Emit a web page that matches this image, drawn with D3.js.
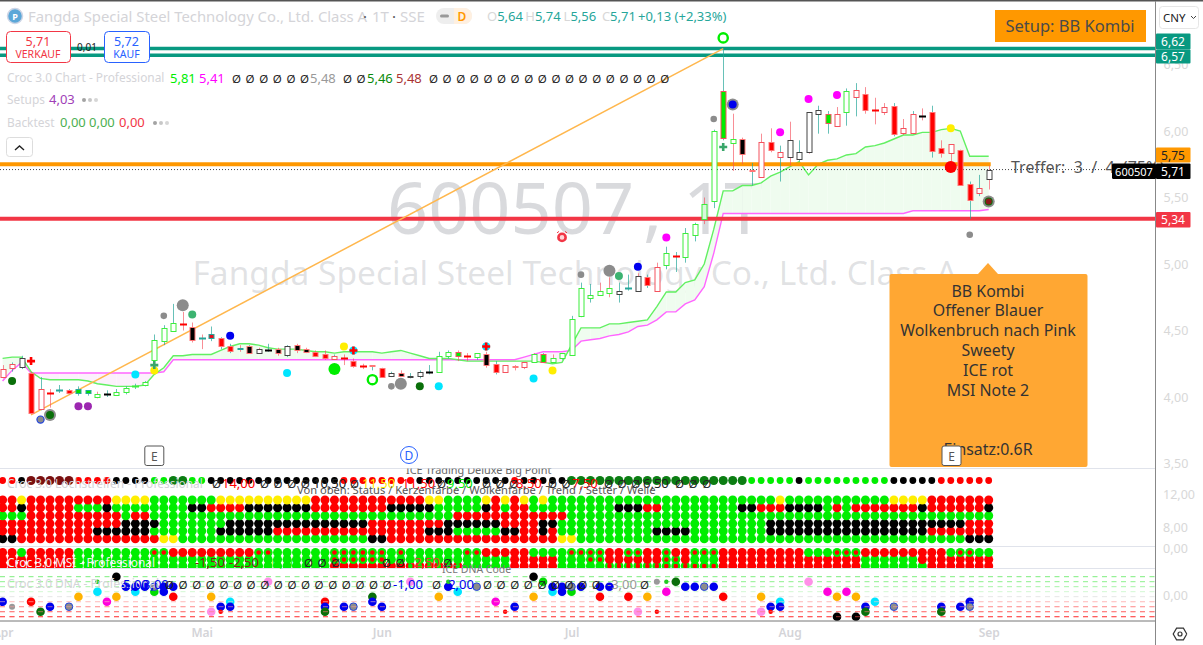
<!DOCTYPE html>
<html><head><meta charset="utf-8">
<style>html,body{margin:0;padding:0;background:#fff;overflow:hidden}svg{display:block}text{font-family:"Noto Sans",sans-serif;white-space:pre}</style>
<script src="https://cdnjs.cloudflare.com/ajax/libs/d3/7.8.5/d3.min.js"></script>
</head><body><svg id="c" width="1203" height="645"></svg>
<script>
const bodyTops=[4.21,4.25,4.29,4.18,4.06,4.03,4.05,4.05,4.06,4.05,
4.02,4.02,4.04,4.07,4.08,4.11,4.43,4.52,4.56,4.55,
4.53,4.44,4.47,4.44,4.38,4.37,4.38,4.36,4.35,4.36,
4.38,4.39,4.36,4.34,4.32,4.31,4.29,4.27,4.23,4.24,
4.22,4.18,4.18,4.16,4.19,4.19,4.31,4.34,4.34,4.31,
4.33,4.32,4.25,4.24,4.23,4.26,4.32,4.32,4.29,4.33,
4.59,4.82,4.77,4.80,4.82,4.80,4.82,4.91,4.90,4.98,
5.08,5.06,5.23,5.30,5.45,6.00,6.30,5.94,5.94,5.71,
5.92,5.92,5.84,5.93,5.84,6.14,6.16,6.13,6.13,6.30,
6.31,6.28,6.16,6.18,6.19,6.02,6.13,6.11,6.14,5.87,
5.90,5.86,5.60,5.57,5.71];
const bodyBottoms=[4.15,4.22,4.22,3.88,3.91,4.03,4.05,4.03,4.03,4.03,
4.00,4.02,4.02,4.04,4.08,4.09,4.28,4.42,4.50,4.55,
4.43,4.44,4.44,4.38,4.34,4.36,4.33,4.33,4.35,4.33,
4.31,4.35,4.34,4.31,4.29,4.29,4.29,4.23,4.23,4.23,
4.15,4.16,4.16,4.15,4.16,4.19,4.19,4.31,4.31,4.31,
4.30,4.24,4.19,4.19,4.22,4.22,4.26,4.26,4.26,4.29,
4.32,4.61,4.75,4.77,4.78,4.78,4.82,4.80,4.84,4.80,
4.99,5.06,5.05,5.22,5.34,5.47,5.95,5.91,5.83,5.70,
5.66,5.86,5.80,5.80,5.79,5.84,6.13,6.06,6.04,6.14,
6.26,6.16,6.16,6.14,5.98,5.98,5.99,6.11,5.85,5.83,
5.83,5.60,5.48,5.53,5.64];
const highs=[4.24,4.26,4.31,4.19,4.15,4.06,4.09,4.06,4.08,4.05,
4.04,4.05,4.06,4.08,4.10,4.12,4.47,4.54,4.70,4.64,
4.56,4.47,4.53,4.45,4.40,4.39,4.39,4.37,4.40,4.37,
4.39,4.40,4.37,4.35,4.35,4.32,4.32,4.29,4.25,4.24,
4.22,4.19,4.20,4.18,4.20,4.24,4.34,4.35,4.35,4.33,
4.33,4.34,4.27,4.24,4.24,4.26,4.33,4.33,4.32,4.33,
4.61,4.86,4.85,4.86,4.90,4.86,4.92,4.93,4.92,5.01,
5.13,5.09,5.27,5.31,5.50,6.01,6.62,6.13,5.95,5.76,
5.98,6.02,5.89,6.07,5.93,6.14,6.19,6.15,6.18,6.32,
6.36,6.33,6.25,6.21,6.21,6.09,6.15,6.17,6.19,5.93,
5.90,5.86,5.62,5.67,5.74];
const lows=[4.14,4.19,4.21,3.87,3.90,3.92,4.03,4.02,4.01,4.01,
3.99,4.00,4.01,4.02,4.06,4.08,4.24,4.39,4.50,4.50,
4.41,4.36,4.42,4.36,4.33,4.34,4.33,4.33,4.34,4.31,
4.30,4.33,4.33,4.30,4.28,4.28,4.24,4.22,4.21,4.20,
4.15,4.15,4.15,4.14,4.14,4.17,4.19,4.29,4.27,4.27,
4.28,4.22,4.17,4.19,4.20,4.21,4.26,4.26,4.26,4.28,
4.32,4.60,4.71,4.77,4.75,4.71,4.80,4.79,4.82,4.80,
4.96,4.94,5.01,5.17,5.30,5.42,5.93,5.70,5.75,5.59,
5.66,5.84,5.62,5.74,5.77,5.83,5.98,5.98,6.03,6.04,
6.11,6.13,6.05,6.12,5.96,5.97,5.98,6.08,5.80,5.80,
5.77,5.60,5.34,5.51,5.56];
const candleStyles=("a a k R a R T R L L h K h h h h h h h R K T U R R U K k K K k K K R R a R R R R R k K k k K h h G R h K R a R a h G h h h h h h h k T k R a h R h h l h G h K K a R a k k k k G a h a R R a R a a K R R a R R a k").split(" ");
const wickDirs="duududuuuuduuuuuuuuddduuududududdddudddududuuuuuddududddduduuuudduududuuuuduudduddududuuduudddudududdduu";
const cloudUpper=[4.29,4.30,4.30,4.19,4.14,4.13,4.13,4.13,4.13,4.12,
4.10,4.09,4.08,4.08,4.08,4.09,4.17,4.22,4.31,4.31,
4.32,4.32,4.32,4.35,4.38,4.40,4.40,4.39,4.37,4.36,
4.36,4.36,4.35,4.34,4.34,4.33,4.34,4.34,4.34,4.34,
4.33,4.34,4.35,4.33,4.31,4.29,4.29,4.29,4.28,4.27,
4.27,4.27,4.27,4.27,4.27,4.27,4.27,4.26,4.25,4.26,
4.39,4.52,4.52,4.52,4.55,4.55,4.56,4.57,4.58,4.68,
4.79,4.79,4.86,4.88,5.00,5.26,5.55,5.55,5.59,5.59,
5.61,5.66,5.69,5.73,5.77,5.67,5.75,5.78,5.79,5.82,
5.83,5.88,5.89,5.91,5.94,5.97,5.97,5.99,5.99,6.01,
6.02,6.00,5.81,5.81,5.81];
const cloudLower=[4.12,4.20,4.26,4.18,4.18,4.18,4.18,4.18,4.18,4.18,
4.18,4.18,4.18,4.18,4.18,4.18,4.18,4.19,4.28,4.28,
4.28,4.28,4.28,4.28,4.28,4.28,4.28,4.28,4.28,4.28,
4.28,4.28,4.28,4.28,4.28,4.28,4.28,4.28,4.28,4.28,
4.28,4.28,4.28,4.28,4.28,4.28,4.28,4.28,4.28,4.28,
4.28,4.28,4.28,4.28,4.28,4.30,4.32,4.34,4.34,4.34,
4.35,4.42,4.43,4.44,4.46,4.47,4.49,4.53,4.54,4.58,
4.64,4.64,4.70,4.73,4.83,5.08,5.38,5.38,5.38,5.38,
5.38,5.38,5.38,5.38,5.38,5.38,5.38,5.38,5.38,5.38,
5.38,5.38,5.38,5.38,5.38,5.38,5.40,5.40,5.40,5.40,
5.40,5.40,5.40,5.40,5.41];
const levelPrices=[6.62,6.57,5.75,5.34,5.71];
const trendStart=[3,3.865], trendEnd=[76,6.62];
const priceTicks=[6.5,6,5.5,5,4.5,4,3.5];
const monthIdx=[0,21,40,60,83,104], monthNames=["Apr","Mai","Jun","Jul","Aug","Sep"];
const markers=[[1,4.12,"dg"],[3,4.27,"rp"],[4,3.83,"ring"],[5,3.865,"gb"],[5,3.865,"dg"],[8,3.93,"pu"],[9,3.93,"pu"],[14,4.17,"cy"],[16,4.20,"ye"],[16,4.24,"gp"],[17,4.61,"gs"],[19,4.69,"gb"],[20,4.62,"se"],[24,4.46,"bl"],[30,4.18,"cy"],[36,4.38,"ye"],[37,4.35,"cy"],[37,4.35,"rp"],[35,4.21,"lb"],[39,4.13,"lr"],[41,4.08,"gs"],[42,4.10,"gb"],[44,4.08,"dg"],[46,4.08,"cy"],[51,4.38,"cy"],[51,4.38,"rp"],[56,4.14,"cy"],[58,4.20,"ye"],[61,4.92,"gs"],[64,4.95,"gb"],[65,4.91,"se"],[67,4.98,"bl"],[70,5.20,"ma"],[75,6.09,"gs"],[76,5.88,"gp"],[77,6.20,"gb"],[77,6.20,"bl"],[76,6.70,"lr"],[82,5.99,"ma"],[85,6.24,"ma"],[88,6.27,"ma"],[100,6.02,"ye"],[100,5.73,"rb"],[102,5.22,"gs"],[104,5.47,"gb"],[104,5.47,"dg"],[104,5.47,"ds"]];
const statusRow="r2 k1 d5 r4 k4 g2 G2 g2 k14 r8 k10 r1 k5 G19 g5 k1 g9 k5 r6";
const gridRows=["r2 y1 r9 y4 g7 y10 r12 y2 g4 y1 r1 y1 r1 y1 g1 y1 g24 y1 g11 y4 r7",
"r2 k1 r5 g3 k1 g8 k2 r4 k7 r8 k5 g5 k1 r1 g1 r2 g9 k3 r2 g8 k2 r3 k4 g1 r1 g1 r7 k1 r6 k1",
"g3 r10 g1 r2 g32 r12 g45",
"r13 k4 g7 k15 r8 k6 r4 k2 g22 k21 r3",
"r10 k6 g7 k6 r16 k3 g5 k2 r2 k1 r1 g10 k4 g8 k17 r7",
"k2 r15 y2 g20 k2 r18 y2 g41 k3"];
const msiRows=["r2 g1 r5 g8 a2 r9 a2 g6 a6 g1 a1 g6 a2 r5 g4 a4 r2 a2 r2 a1 r2 a3 r9 g3 a3 r9 g1 a2 g2",
"r8 g8 g11 g8 a6 g1 g12 r5 g3 a2 r2 r4 a2 r1 g3 r9 r3 r3 g6 r8",
"r8 g19 g8 r8 b6 g5 r5 g5 a12 r15 g6 g1 r7"];
const dnaLevels=[4,3,2,1,0,-1,-2,-3,-4];
const dnaLevelColors=["#7dee7d","#8df08d","#a8f4a8","#d2f8d2","#e6e6e6","#ffc4c4","#ff9a9a","#ff7878","#ff4d4d"];
const dnaDots=[[0,-1,"b"],[1,-2,"s"],[3,-1,"r"],[4,-3,"d"],[5,-2,"b"],[7,-2,"x"],[8,0,"o"],[10,1,"c"],[10,3,"q"],[11,-1,"m"],[12,0,"o"],[12,4,"k"],[13,2,"b"],[14,1,"c"],[14,2,"b"],[15,2,"b"],[16,1,"g"],[16,2,"x"],[17,1,"b"],[17,2,"b"],[18,2,"b"],[18,0,"r"],[22,0,"o"],[22,-3,"p"],[23,-2,"b"],[23,-3,"t"],[24,-1,"c"],[24,-2,"b"],[28,3,"p"],[34,-1,"r"],[34,-2,"b"],[34,-3,"d"],[36,-2,"b"],[37,-2,"x"],[39,0,"d"],[39,-1,"b"],[40,-2,"b"],
[43,3,"p"],[46,0,"o"],[47,2,"b"],[47,3,"q"],[48,1,"c"],[50,2,"x"],[52,-1,"m"],[53,-3,"t"],[54,-2,"b"],[56,0,"o"],[56,4,"k"],[57,3,"g"],[58,1,"c"],[58,2,"b"],[59,1,"b"],[59,2,"b"],[60,1,"g"],[60,2,"x"],[61,2,"b"],[63,0,"r"],[63,2,"b"],[64,2,"b"],[66,0,"r"],[67,-3,"p"],[68,0,"o"],[69,-3,"t"],[69,3,"s"],[70,1,"m"],[70,3,"q"],[71,3,"d"],[72,2,"b"],[73,2,"b"],[74,2,"x"],[75,2,"b"],[76,0,"r"],[80,0,"o"],[80,-3,"p"],[81,-2,"b"],[81,-3,"t"],[82,-1,"c"],[82,-2,"b"],
[85,3,"p"],[87,1,"m"],[88,0,"o"],[88,-4,"k"],[89,1,"m"],[90,0,"o"],[90,-4,"k"],[91,-2,"b"],[91,-3,"d"],[92,-1,"c"],[94,-2,"x"],[99,-2,"b"],[99,-3,"d"],[101,-2,"b"],[102,-1,"b"],[102,-2,"x"]];
const headerOhlc=[["O","5,64"],["H","5,74"],["L","5,56"],["C","5,71"]];
const noteLines=["BB Kombi","Offener Blauer","Wolkenbruch nach Pink","Sweety","ICE rot","MSI Note 2","","","Einsatz:0.6R"];

const svg=d3.select("#c");
const N=bodyTops.length;
const x=d3.scalePoint(d3.range(N),[2.6,988.7]);
const y=d3.scaleLinear([6,3.5],[131,463.5]);
const dnaY=d3.scaleLinear([0,-4],[596.7,616.7]);
const FONT='"Noto Sans",sans-serif';
const defs=svg.append("defs");
defs.append("clipPath").attr("id","main").append("rect").attr("width",1155).attr("height",468);
defs.append("clipPath").attr("id","msi").append("rect").attr("y",547).attr("width",1155).attr("height",21);
defs.append("clipPath").attr("id","ice").append("rect").attr("y",468.5).attr("width",1155).attr("height",30);
function txt(g,s,px,py,size,fill,anchor,weight){return g.append("text").attr("x",px).attr("y",py).attr("font-size",size).attr("fill",fill).attr("text-anchor",anchor||"start").attr("font-weight",weight||null).text(s);}
function expand(s){const o=[];s.split(" ").forEach(t=>{for(let k=0;k<+t.slice(1);k++)o.push(t[0]);});return o;}

/* frame */
svg.append("rect").attr("width",1203).attr("height",1.5).attr("fill","#555");
const main=svg.append("g").attr("clip-path","url(#main)");
/* watermark */
const wm="rgba(120,123,134,.28)";
const wmt=main.append("text").attr("y",234).attr("font-size",72).attr("fill",wm);
[["600507",387],[",",643],["1T",683]].forEach(d=>wmt.append("tspan").attr("x",d[1]).text(d[0]));
txt(main,"Fangda Special Steel Technology Co., Ltd. Class A",575,285,33.5,"rgba(120,123,134,.22)","middle");
/* cloud */
const area=d3.area().x(d=>x(d)).y0(d=>y(cloudLower[d])).y1(d=>y(cloudUpper[d]));
main.append("g").selectAll("path").data(d3.range(N-1)).join("path")
 .attr("d",i=>area([i,i+1]))
 .attr("fill",i=>cloudUpper[i]+cloudUpper[i+1]>=cloudLower[i]+cloudLower[i+1]?"#effcef":"#fcf0fc");
main.append("path").attr("d",d3.line().x(d=>x(d)).y(d=>y(cloudLower[d]))(d3.range(N))).attr("fill","none").attr("stroke","#ff66ff").attr("stroke-width",1.4);
main.append("path").attr("d",d3.line().x(d=>x(d)).y(d=>y(cloudUpper[d]))(d3.range(N))).attr("fill","none").attr("stroke","#62f062").attr("stroke-width",1.4);
/* levels */
const lvl=(p,c,w,x2)=>main.append("line").attr("x1",0).attr("x2",x2).attr("y1",y(p)).attr("y2",y(p)).attr("stroke",c).attr("stroke-width",w);
lvl(levelPrices[0],"#089981",3.4,1155);lvl(levelPrices[1],"#089981",3.4,1155);
lvl(levelPrices[2],"#ff9800",4,x(N-1)+2);lvl(levelPrices[3],"#f23645",4,1155);
lvl(levelPrices[4],"#444",1,1155).attr("stroke-dasharray","1,2");
/* trend line */
main.append("line").attr("x1",x(trendStart[0])).attr("y1",y(trendStart[1])).attr("x2",x(trendEnd[0])).attr("y2",y(trendEnd[1])).attr("stroke","#ffb74d").attr("stroke-width",1.5);
/* candles */
const cs={a:["#fff","#f4525e"],R:["#ff0000","#f77"],h:["#fff","#3dee3d"],l:["#d8f8dc","#3dee3d"],G:["#00ee00","#f4525e"],L:["#00e000","#26a69a"],k:["#fff","#444"],K:["#000","#f77"],T:["#26a69a","#26a69a"],U:["#e01020","#26a69a"]};
const cg=main.append("g");
d3.range(N).forEach(i=>{
 const px=Math.round(x(i));
 cg.append("line").attr("x1",px+.5).attr("x2",px+.5).attr("y1",y(highs[i])).attr("y2",y(lows[i]))
  .attr("stroke",wickDirs[i]==="u"?"#26a69a":"#f4525e").attr("stroke-opacity",wickDirs[i]==="u"?.7:.65);
 const t=y(bodyTops[i]),b=y(bodyBottoms[i]),s=cs[candleStyles[i]];
 if(b-t<1.2){cg.append("rect").attr("x",px-3).attr("y",Math.round(t)-.5).attr("width",7).attr("height",2).attr("fill",s[0]==="#fff"?s[1]:s[0]);}
 else cg.append("rect").attr("x",px-2).attr("y",Math.round(t)+.5).attr("width",5).attr("height",Math.max(1,Math.round(b-t))).attr("fill",s[0]).attr("stroke",s[1]);
});
/* markers */
const mg=main.append("g");
const mk={dg:["#0a6f0a",4],gb:["#8c8c8c",6],gs:["#8c8c8c",3.3],pu:["#9c27b0",4],cy:["#00e5ff",4],ye:["#ffee00",4],se:["#3cb371",4],bl:["#0000ee",4],lb:["#00ee00",6],ma:["#ff00ff",4],rb:["#f00",6],ds:["#8b1a1a",3]};
markers.forEach(m=>{const mx=x(m[0]),my=y(m[1]);
 if(m[2]==="rp"||m[2]==="gp"){const c=m[2]==="rp"?"#f00":"#3aa66a";
  mg.append("path").attr("d",`M${mx-4},${my}H${mx+4}M${mx},${my-4}V${my+4}`).attr("stroke",c).attr("stroke-width",2.6);}
 else if(m[2]==="lr"){mg.append("circle").attr("cx",mx).attr("cy",my).attr("r",4.6).attr("fill","#fff").attr("stroke","#00ee00").attr("stroke-width",2.4);}
 else if(m[2]==="ring"){mg.append("circle").attr("cx",mx).attr("cy",my).attr("r",3.6).attr("fill","#8c8c8c").attr("stroke","#2244dd").attr("stroke-width",1.2);}
 else mg.append("circle").attr("cx",mx).attr("cy",my).attr("r",mk[m[2]][1]).attr("fill",mk[m[2]][0]);
});
/* alarm */
const al=main.append("g");
al.append("circle").attr("cx",x(59)).attr("cy",y(5.20)).attr("r",3.6).attr("fill","#ffd5d8").attr("stroke","#f23645").attr("stroke-width",2.6);
al.append("path").attr("d",`M${x(59)-5},${y(5.20)-4.5}l2,-1.5M${x(59)+5},${y(5.20)-4.5}l-2,-1.5`).attr("stroke","#f23645");
/* event marks */
const eBox=(g,cx)=>{g.append("rect").attr("x",cx-9.5).attr("y",446).attr("width",19).attr("height",19.5).attr("rx",2).attr("fill","#fff").attr("stroke","#555");
 txt(g,"E",cx,460.5,12,"#555","middle");};
eBox(main,x(16));
main.append("circle").attr("cx",409).attr("cy",455).attr("r",8.5).attr("fill","#fff").attr("stroke","#2962ff");
txt(main,"D",409,459.5,12,"#2962ff","middle");

/* note */
const note=svg.append("g");
note.append("path").attr("d","M978,274L988,263L998,274Z").attr("fill","#ffa733");
note.append("rect").attr("x",889.5).attr("y",274).attr("width",198).attr("height",193).attr("rx",2).attr("fill","#ffa733");
noteLines.forEach((s,i)=>{if(s)txt(note,s,988,296.5+i*19.8,15.9,"#333","middle");});
eBox(svg,951.5);
/* setup */
svg.append("rect").attr("x",995).attr("y",10).attr("width",151).attr("height",32).attr("fill","#ff9800");
txt(svg,"Setup: BB Kombi",1070,32,16.5,"#4a4a4a","middle");
txt(svg,"Treffer:  3  /  4  (75%)",1011,172.5,16,"#555");

/* header */
svg.append("circle").attr("cx",15).attr("cy",16).attr("r",7.5).attr("fill","#5ba7d8").attr("stroke","#cfd6e6").attr("stroke-width",1.5);
txt(svg,"P",15,20,9,"#fff","middle","700");
txt(svg,"Fangda Special Steel Technology Co., Ltd. Class A",28,22,14.85,"#d4d4d8");
txt(svg,"·",363,22,15,"#555");
txt(svg,"1T",372,22,15,"#d4d4d8");
txt(svg,"·",392,22,15,"#555");
txt(svg,"SSE",400,22,15,"#d4d4d8");
svg.append("rect").attr("x",436).attr("y",8).attr("width",36).attr("height",16).attr("rx",8).attr("fill","#eeeeee");
svg.append("path").attr("d","M454,8h10a8,8 0 0 1 0,16h-10Z").attr("fill","#fff0e0");
svg.append("rect").attr("x",440).attr("y",14.5).attr("width",9).attr("height",3).attr("rx",1.5).attr("fill","#999");
txt(svg,"D",462,21,12,"#ff9800","middle","600");
let ox=487;
headerOhlc.forEach(h=>{const t=svg.append("text").attr("x",ox).attr("y",21).attr("font-size",13);
 t.append("tspan").attr("fill","#d8d8d8").text(h[0]);t.append("tspan").attr("fill","#26a69a").text(h[1]);ox+=38.3;});
txt(svg,"+0,13 (+2,33%)",638,21,13,"#26a69a");

/* order buttons */
const btn=(bx,w,col,a,b)=>{svg.append("rect").attr("x",bx+.5).attr("y",31.5).attr("width",w).attr("height",31).attr("rx",4).attr("fill","#fff").attr("stroke",col);
 txt(svg,a,bx+w/2,46,12.5,col,"middle");txt(svg,b,bx+w/2,58,10.5,col,"middle");};
btn(6,64,"#f23645","5,71","VERKAUF");btn(104,45,"#2962ff","5,72","KAUF");
txt(svg,"0,01",87,51,10,"#222","middle");

/* legend rows: each token is [text,colour,optional start x]; the empty-value mark advances by one step */
function flow(px,py,items,size){let cx=px;items.forEach(it=>{if(it[2]!==undefined)cx=it[2];
 const isZ=it[0]==="Ø";const t=txt(svg,it[0],cx,py,isZ?11.5:size,it[1]);cx+=isZ?13.6:t.node().getComputedTextLength()+5;});}
const Z=["Ø","#222"];
const rep=(n,at)=>{const a=Array(n).fill(Z);if(at!==undefined)a[0]=["Ø","#222",at];return a;};
const LAB=11.9;
txt(svg,"Croc 3.0 Chart - Professional",7,82,LAB,"#d4d4d8");
flow(170,83,[["5,81","#00ee00"],["5,41","#ff00ff",199],...rep(6,232),["5,48","#999",310],...rep(2,343),["5,46","#0a8a0a",367],["5,48","#a33",396],...rep(18,429)],13);
txt(svg,"Setups",7,104,LAB,"#d4d4d8");txt(svg,"4,03",49,104,13,"#a040b8");
txt(svg,"Backtest",7,127,LAB,"#d4d4d8");
flow(60,127,[["0,00","#4caf50"],["0,00","#4caf50",89],["0,00","#f23645",119]],13);
[[84,.9],[90,.55],[96,.4],[155,.9],[161,.55],[167,.4]].forEach((d,i)=>svg.append("circle").attr("cx",d[0]).attr("cy",i<3?100:123).attr("r",2).attr("fill","#999").attr("opacity",d[1]));
svg.append("rect").attr("x",6.5).attr("y",137.5).attr("width",26).attr("height",19).attr("rx",3).attr("fill","#fff").attr("stroke","#ddd");
svg.append("path").attr("d","M15,150l4.5,-4l4.5,4").attr("fill","none").attr("stroke","#222").attr("stroke-width",1.4);

/* panes */
const seps=[468.5,546.5,568.5];
seps.forEach(s=>svg.append("line").attr("x1",0).attr("x2",1155).attr("y1",s).attr("y2",s).attr("stroke","#e0e3eb"));
const dotCol={r:"#ff0000",k:"#000",g:"#00ee00",y:"#ffee00",d:"#7a1010",G:"#0b7d12"};
const pane1=svg.append("g");
expand(statusRow).forEach((c,i)=>pane1.append("circle").attr("cx",x(i)).attr("cy",480.5).attr("r",(c==="d"||c==="G")?4.5:3.4).attr("fill",dotCol[c]));
const rowY=[500,507.8,515.7,523.6,531,538.7];
const rowOrder=[5,4,3,2,1,0];
rowOrder.forEach(r=>expand(gridRows[r]).forEach((c,i)=>pane1.append("circle").attr("cx",x(i)).attr("cy",rowY[r]).attr("r",4.5).attr("fill",dotCol[c])));
const pane2=svg.append("g").attr("clip-path","url(#msi)");
const msiY=[552.5,559.5,566];
[2,1,0].forEach(r=>expand(msiRows[r]).forEach((c,i)=>{
 const outer=c==="b"?"#ff0000":c==="a"?"#00ee00":dotCol[c];
 pane2.append("circle").attr("cx",x(i)).attr("cy",msiY[r]).attr("r",4.5).attr("fill",outer);
 if(c==="a")pane2.append("circle").attr("cx",x(i)).attr("cy",msiY[r]).attr("r",2.3).attr("fill","#ff0000");
 if(c==="b")pane2.append("circle").attr("cx",x(i)).attr("cy",msiY[r]).attr("r",2.3).attr("fill","#00ee00");
}));
/* dna */
const pane3=svg.append("g");
dnaLevels.forEach((l,i)=>pane3.append("line").attr("x1",0).attr("x2",1155).attr("y1",dnaY(l)).attr("y2",dnaY(l)).attr("stroke",dnaLevelColors[i]).attr("stroke-dasharray","5,4.5"));
const dnaCol={b:["#0000ee",4.3],s:["#999",3],r:["#f00",4.3],d:["#0a6f0a",4.3],x:["#8c8c8c",3.8],o:["#ffb300",4.3],c:["#00e5ff",4.3],q:["#22cc22",2.2],m:["#ff00dd",4.3],k:["#000",4.3],g:["#00dd00",4.3],p:["#ff90e8",4.3],t:["#f00",2.2]};
dnaDots.forEach(d=>{const c=dnaCol[d[2]];
 pane3.append("circle").attr("cx",x(d[0])).attr("cy",dnaY(d[1])).attr("r",c[1]).attr("fill",c[0]).attr("stroke",d[2]==="x"?"#2244dd":null);});
dnaLevels.forEach((l,i)=>{if(l<0)pane3.append("line").attr("x1",0).attr("x2",1155).attr("y1",dnaY(l)).attr("y2",dnaY(l)).attr("stroke",dnaLevelColors[i]).attr("stroke-opacity",.6).attr("stroke-dasharray","5,4.5");});

/* pane legends */
txt(svg,"Croc 3.0 Lochstreifen - Professional",7,488,LAB,"#d4d4d8");
flow(212,488,[["Ø","#222",212],["14,00","#f00",222],...rep(4,260),["10,50","#222",313],["Ø","#222",350],["11,50","#ffee00",362],["11,50","#f00",402],["Ø","#222",437],["9,50","#00ee00",447],...rep(3,482),["8,50","#f00",516],...rep(2,548),["7,50","#f00",572],...rep(3,604),["6,50","#222",643],...rep(3,675)],13);
txt(svg,"ICE Trading Deluxe Big Point",406,474,10.9,"#666").attr("clip-path","url(#ice)");
txt(svg,"Von oben: Status / Kerzenfarbe / Wolkenfarbe / Trend / Setter / Welle",297,493.5,11.15,"#555");
txt(svg,"Croc 3.0 MSI - Professional",7,567,LAB,"#f2f2f2");
flow(195,567,[["-1,50","#8b1a1a"],["-2,50","#8b1a1a",229],["0,50","#00ee00",272],...rep(3,304),...rep(2,382),["-2,50","#e33",410],["Ø","#222",443]],13);
txt(svg,"ICE DNA Code",442,573,10.5,"#777");
txt(svg,"Croc 3.0 DNA - Professional",7,588,LAB,"#d4d4d8");
flow(123,589,[["5,00","#0000ee"],["3,00","#0000ee",143],...rep(17,165),["-1,00","#0000ee",393],["Ø","#222",432],["-2,00","#0000ee",444],...rep(9,483),["-3,00","#999",607],["Ø","#222",640]],13);

/* axes */
svg.append("line").attr("x1",0).attr("x2",1155.5).attr("y1",621).attr("y2",621).attr("stroke","#777");
svg.append("line").attr("x1",1155.5).attr("x2",1155.5).attr("y1",1).attr("y2",645).attr("stroke","#888");
const ax=svg.append("g").attr("transform","translate(0,621)").call(d3.axisBottom(x).tickValues(monthIdx).tickSize(0).tickPadding(7).tickFormat(i=>monthNames[monthIdx.indexOf(i)]));
ax.select(".domain").remove();ax.selectAll("text").attr("font-size",12).attr("font-weight",600).attr("fill","#d4d4d8").attr("font-family",FONT);
const ay=svg.append("g").attr("transform","translate(1155.5,0)").call(d3.axisRight(y).tickValues(priceTicks).tickSize(0).tickPadding(8).tickFormat(d3.format(".2f")));
ay.select(".domain").remove();ay.selectAll("text").attr("font-size",12.5).attr("fill","#d8d8d8").attr("font-family",FONT).text(d=>d.toFixed(2).replace(".",","));
[["12,00",494.5],["8,00",527],["0,00",548],["0,00",595]].forEach(d=>txt(svg,d[0],1163,d[1]+4.5,12.5,"#d8d8d8"));

/* labels */
const lab=(top,h,bg,fg,s)=>{svg.append("rect").attr("x",1156).attr("y",top).attr("width",34.5).attr("height",h).attr("fill",bg).attr("rx",1);
 txt(svg,s,1173,top+h/2+4.5,12,fg,"middle");};
lab(33.5,16,"#089981","#fff","6,62");lab(49.5,14,"#089981","#fff","6,57");
lab(147.5,15,"#ff9800","#222","5,75");lab(163.5,15.5,"#000","#fff","5,71");
lab(212,15.5,"#f23645","#fff","5,34");
svg.append("rect").attr("x",1112).attr("y",163.5).attr("width",44).attr("height",15.5).attr("rx",1.5).attr("fill","#000");
txt(svg,"600507",1134,175.5,11,"#fff","middle");
/* cny + settings */
svg.append("rect").attr("x",1159.5).attr("y",6.5).attr("width",39).attr("height",22).attr("rx",3).attr("fill","#fff").attr("stroke","#e6e6e6");
txt(svg,"CNY",1163,21.5,11.5,"#222");
svg.append("path").attr("d","M1191,16l2.5,2.5l2.5,-2.5").attr("fill","none").attr("stroke","#444");
svg.append("path").attr("d",d3.line()(d3.range(7).map(k=>[1180+6.8*Math.cos(k*Math.PI/3),634+6.8*Math.sin(k*Math.PI/3)]))).attr("fill","none").attr("stroke","#333").attr("stroke-width",1.2);
svg.append("circle").attr("cx",1180).attr("cy",634).attr("r",2).attr("fill","none").attr("stroke","#333").attr("stroke-width",1.2);
</script></body></html>
